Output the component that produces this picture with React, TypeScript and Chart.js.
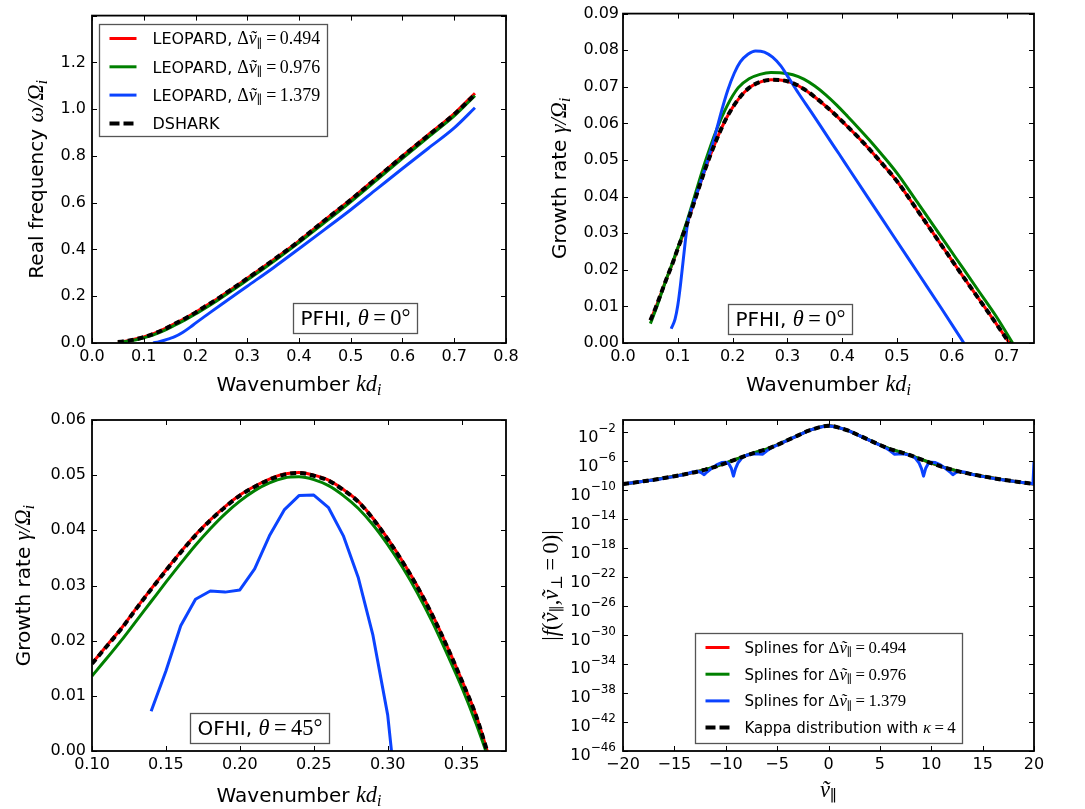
import React, { useEffect, useRef } from 'react';
import { Chart, registerables } from 'chart.js';

Chart.register(...registerables);

const RED = '#ff0000';
const GREEN = '#008000';
const BLUE = '#0b43ff';
const BLACK = '#000000';

// ---------------- Panel 1: real frequency, PFHI theta=0 ----------------
const p1K = [0.05, 0.07, 0.09, 0.10, 0.12, 0.14, 0.16, 0.18, 0.20, 0.22, 0.24, 0.26, 0.28, 0.30, 0.32, 0.34, 0.36, 0.38, 0.40, 0.45, 0.50, 0.55, 0.60, 0.65, 0.70, 0.74];
const p1Dshark = [0.004, 0.010, 0.019, 0.025, 0.040, 0.059, 0.082, 0.105, 0.130, 0.158, 0.185, 0.215, 0.245, 0.276, 0.307, 0.338, 0.370, 0.402, 0.436, 0.525, 0.612, 0.705, 0.798, 0.888, 0.978, 1.063];
const p1Red = [0.004, 0.010, 0.020, 0.026, 0.041, 0.060, 0.083, 0.106, 0.131, 0.159, 0.186, 0.216, 0.246, 0.277, 0.308, 0.339, 0.371, 0.403, 0.437, 0.526, 0.614, 0.707, 0.800, 0.891, 0.981, 1.068];
const p1Green = [0.003, 0.008, 0.016, 0.022, 0.036, 0.054, 0.076, 0.099, 0.124, 0.151, 0.179, 0.208, 0.238, 0.269, 0.300, 0.331, 0.363, 0.396, 0.430, 0.516, 0.604, 0.697, 0.790, 0.881, 0.971, 1.058];
const p1BlueK = [0.118, 0.13, 0.14, 0.15, 0.16, 0.175, 0.19, 0.20, 0.22, 0.25, 0.30, 0.35, 0.40, 0.45, 0.50, 0.55, 0.60, 0.65, 0.70, 0.74];
const p1Blue = [0.0, 0.006, 0.012, 0.019, 0.027, 0.045, 0.068, 0.085, 0.117, 0.165, 0.243, 0.321, 0.403, 0.486, 0.570, 0.658, 0.746, 0.833, 0.920, 1.006];
const p1XTicks = [0, 0.1, 0.2, 0.3, 0.4, 0.5, 0.6, 0.7, 0.8];
const p1YTicks = [0, 0.2, 0.4, 0.6, 0.8, 1.0, 1.2, 1.4];

// ---------------- Panel 2: growth rate, PFHI theta=0 ----------------
const p2K = [0.05, 0.06, 0.07, 0.08, 0.09, 0.10, 0.115, 0.13, 0.15, 0.17, 0.19, 0.21, 0.23, 0.25, 0.27, 0.29, 0.31, 0.33, 0.35, 0.37, 0.39, 0.41, 0.43, 0.45, 0.47, 0.50, 0.53, 0.56, 0.59, 0.62, 0.65, 0.68, 0.705];
const p2Dshark = [0.0062, 0.0098, 0.0138, 0.0178, 0.0216, 0.0258, 0.0318, 0.0385, 0.0475, 0.0553, 0.0618, 0.0665, 0.0697, 0.0713, 0.0719, 0.0718, 0.0710, 0.0694, 0.0672, 0.0647, 0.0620, 0.0591, 0.0561, 0.0529, 0.0495, 0.0442, 0.0378, 0.0313, 0.0248, 0.0183, 0.0119, 0.0055, 0.0];
const p2Red = [0.0062, 0.0098, 0.0138, 0.0178, 0.0216, 0.0258, 0.0318, 0.0385, 0.0475, 0.0553, 0.0618, 0.0665, 0.0697, 0.0713, 0.0719, 0.0718, 0.0710, 0.0694, 0.0672, 0.0647, 0.0620, 0.0591, 0.0561, 0.0529, 0.0495, 0.0442, 0.0378, 0.0313, 0.0248, 0.0183, 0.0119, 0.0055, 0.0];
const p2GreenK = [0.05, 0.06, 0.07, 0.08, 0.09, 0.10, 0.115, 0.13, 0.15, 0.17, 0.19, 0.21, 0.23, 0.25, 0.27, 0.29, 0.31, 0.33, 0.35, 0.37, 0.39, 0.41, 0.43, 0.45, 0.47, 0.50, 0.53, 0.56, 0.59, 0.62, 0.65, 0.68, 0.711];
const p2Green = [0.0053, 0.0092, 0.0135, 0.0178, 0.0218, 0.0260, 0.0325, 0.0398, 0.0495, 0.0580, 0.0648, 0.0697, 0.0722, 0.0734, 0.0739, 0.0738, 0.0733, 0.0721, 0.0702, 0.0678, 0.0650, 0.0619, 0.0587, 0.0554, 0.0519, 0.0464, 0.0400, 0.0335, 0.0270, 0.0205, 0.0140, 0.0075, 0.0];
const p2BlueK = [0.088, 0.095, 0.10, 0.105, 0.11, 0.118, 0.13, 0.141, 0.153, 0.167, 0.18, 0.191, 0.203, 0.214, 0.228, 0.242, 0.258, 0.273, 0.288, 0.302, 0.32, 0.343, 0.36, 0.378, 0.395, 0.413, 0.447, 0.495, 0.541, 0.58, 0.622];
const p2Blue = [0.0039, 0.0065, 0.0103, 0.0160, 0.0228, 0.0328, 0.0387, 0.0437, 0.0492, 0.0562, 0.0635, 0.0690, 0.0737, 0.0768, 0.0789, 0.0798, 0.0795, 0.0781, 0.0757, 0.0725, 0.0683, 0.0632, 0.0594, 0.0553, 0.0515, 0.0474, 0.0397, 0.0289, 0.0185, 0.0097, 0.0];
const p2XTicks = [0, 0.1, 0.2, 0.3, 0.4, 0.5, 0.6, 0.7];
const p2YTicks = [0, 0.01, 0.02, 0.03, 0.04, 0.05, 0.06, 0.07, 0.08, 0.09];

// ---------------- Panel 3: growth rate, OFHI theta=45 ----------------
const p3K = [0.10, 0.11, 0.12, 0.13, 0.14, 0.15, 0.16, 0.17, 0.18, 0.19, 0.20, 0.21, 0.22, 0.23, 0.24, 0.25, 0.26, 0.27, 0.28, 0.29, 0.30, 0.31, 0.32, 0.33, 0.34, 0.35, 0.36, 0.37];
const p3Dshark = [0.0158, 0.0190, 0.0222, 0.0258, 0.0293, 0.0327, 0.0360, 0.0391, 0.0418, 0.0442, 0.0463, 0.0479, 0.0492, 0.0501, 0.0504, 0.0499, 0.0490, 0.0473, 0.0452, 0.0421, 0.0384, 0.0343, 0.0298, 0.0247, 0.0190, 0.0128, 0.0062, -0.0025];
const p3Red = [0.0159, 0.0191, 0.0223, 0.0259, 0.0294, 0.0328, 0.0361, 0.0392, 0.0419, 0.0443, 0.0464, 0.0480, 0.0493, 0.0502, 0.0505, 0.0500, 0.0491, 0.0474, 0.0453, 0.0422, 0.0385, 0.0344, 0.0299, 0.0248, 0.0191, 0.0129, 0.0063, -0.0024];
const p3Green = [0.0136, 0.0168, 0.0201, 0.0236, 0.0271, 0.0306, 0.0340, 0.0373, 0.0403, 0.0430, 0.0453, 0.0472, 0.0486, 0.0495, 0.0497, 0.0492, 0.0481, 0.0463, 0.0440, 0.0410, 0.0374, 0.0333, 0.0287, 0.0235, 0.0177, 0.0116, 0.0048, -0.0028];
const p3BlueK = [0.14, 0.15, 0.16, 0.17, 0.18, 0.19, 0.20, 0.21, 0.22, 0.23, 0.24, 0.25, 0.26, 0.27, 0.28, 0.29, 0.30, 0.31];
const p3Blue = [0.0072, 0.0145, 0.0227, 0.0275, 0.0290, 0.0288, 0.0292, 0.0330, 0.0390, 0.0437, 0.0463, 0.0464, 0.0441, 0.0390, 0.0315, 0.0210, 0.0065, -0.019];
const p3XTicks = [0.10, 0.15, 0.20, 0.25, 0.30, 0.35];
const p3YTicks = [0, 0.01, 0.02, 0.03, 0.04, 0.05, 0.06];

// ---------------- Panel 4: distribution function ----------------
const p4V = [-20, -19, -18, -17, -16, -15, -14, -13, -12, -11, -10, -9, -8, -7, -6, -5, -4, -3, -2, -1, -0.5, 0, 0.5, 1, 2, 3, 4, 5, 6, 7, 8, 9, 10, 11, 12, 13, 14, 15, 16, 17, 18, 19, 20];
const p4Kappa = [7.24e-10, 1.10e-9, 1.78e-9, 2.75e-9, 4.79e-9, 8.71e-9, 1.58e-8, 3.09e-8, 7.08e-8, 1.78e-7, 5.62e-7, 1.82e-6, 6.31e-6, 1.82e-5, 4.68e-5, 1.78e-4, 7.94e-4, 3.55e-3, 1.62e-2, 4.47e-2, 6.76e-2, 8.13e-2, 6.76e-2, 4.47e-2, 1.62e-2, 3.55e-3, 7.94e-4, 1.78e-4, 4.68e-5, 1.82e-5, 6.31e-6, 1.82e-6, 5.62e-7, 1.78e-7, 7.08e-8, 3.09e-8, 1.58e-8, 8.71e-9, 4.79e-9, 2.75e-9, 1.78e-9, 1.10e-9, 7.24e-10];
const p4Red = [7.24e-10, 1.10e-9, 1.78e-9, 2.75e-9, 4.79e-9, 8.71e-9, 1.58e-8, 3.09e-8, 7.08e-8, 1.78e-7, 5.62e-7, 1.82e-6, 6.31e-6, 1.82e-5, 4.68e-5, 1.78e-4, 7.94e-4, 3.55e-3, 1.62e-2, 4.47e-2, 6.76e-2, 8.13e-2, 6.76e-2, 4.47e-2, 1.62e-2, 3.55e-3, 7.94e-4, 1.78e-4, 4.68e-5, 1.82e-5, 6.31e-6, 1.82e-6, 5.62e-7, 1.78e-7, 7.08e-8, 3.09e-8, 1.58e-8, 8.71e-9, 4.79e-9, 2.75e-9, 1.78e-9, 1.10e-9, 7.24e-10];
const p4Green = [7.30e-10, 1.11e-9, 1.80e-9, 2.80e-9, 4.85e-9, 8.80e-9, 1.60e-8, 3.15e-8, 7.20e-8, 1.82e-7, 6.00e-7, 1.90e-6, 6.50e-6, 1.90e-5, 5.00e-5, 1.85e-4, 8.10e-4, 3.60e-3, 1.63e-2, 4.45e-2, 6.70e-2, 8.00e-2, 6.70e-2, 4.45e-2, 1.63e-2, 3.60e-3, 8.10e-4, 1.85e-4, 5.00e-5, 1.90e-5, 6.50e-6, 1.90e-6, 6.00e-7, 1.82e-7, 7.20e-8, 3.15e-8, 1.60e-8, 8.80e-9, 4.85e-9, 2.80e-9, 1.80e-9, 1.11e-9, 7.30e-10];
const p4BlueV = [-20, -18, -16.5, -15.5, -14.8, -14, -13.3, -12.7, -12.4, -12.1, -11.8, -11.4, -10.9, -10.4, -10.0, -9.7, -9.45, -9.25, -9.05, -8.8, -8.4, -7.9, -7.3, -6.8, -6.4, -6.0, -5.5, -5, -4, -3, -2, -1, 0, 1, 2, 3, 4, 5, 5.5, 6.0, 6.4, 6.8, 7.3, 7.9, 8.4, 8.8, 9.05, 9.25, 9.45, 9.7, 10.0, 10.4, 10.9, 11.4, 11.8, 12.1, 12.4, 12.7, 13.3, 14, 14.8, 15.5, 16.5, 18, 19.9, 20];
const p4Blue = [7.24e-10, 1.74e-9, 3.39e-9, 6.03e-9, 8.91e-9, 1.51e-8, 3.02e-8, 4.17e-8, 2.82e-8, 1.41e-8, 3.55e-8, 1.0e-7, 3.16e-7, 6.61e-7, 7.59e-7, 4.47e-7, 1.0e-7, 8.91e-9, 1.0e-7, 6.31e-7, 3.16e-6, 7.59e-6, 1.05e-5, 1.05e-5, 9.55e-6, 2.82e-5, 7.94e-5, 1.74e-4, 7.94e-4, 3.55e-3, 1.62e-2, 4.47e-2, 8.13e-2, 4.47e-2, 1.62e-2, 3.55e-3, 7.94e-4, 1.74e-4, 7.94e-5, 2.82e-5, 9.55e-6, 1.05e-5, 1.05e-5, 7.59e-6, 3.16e-6, 6.31e-7, 1.0e-7, 8.91e-9, 1.0e-7, 4.47e-7, 7.59e-7, 6.61e-7, 3.16e-7, 1.0e-7, 3.55e-8, 1.41e-8, 2.82e-8, 4.17e-8, 3.02e-8, 1.51e-8, 8.91e-9, 6.03e-9, 3.39e-9, 1.74e-9, 7.6e-10, 1.0e-6];
const p4XTicks = [-20, -15, -10, -5, 0, 5, 10, 15, 20];
const p4YExponents = [-2, -6, -10, -14, -18, -22, -26, -30, -34, -38, -42, -46];

// legend label values
const dvLabels = ['0.494', '0.976', '1.379'];
const kappaLabel = '4';

// ---------------- rich text helpers ----------------
type Seg = { t: string; f?: 's' | 'i' | 'r'; sub?: boolean; sup?: boolean };
const SANS = '"DejaVu Sans", sans-serif';
const SERIF = '"Liberation Serif", "DejaVu Serif", serif';
const MATH_SCALE = 1.12;

function segFont(s: Seg, size: number) {
  const sz = s.sub || s.sup ? size * 0.7 : size;
  if (s.f === 'i') return `italic ${(sz * MATH_SCALE).toFixed(2)}px ${SERIF}`;
  if (s.f === 'r') return `${(sz * MATH_SCALE).toFixed(2)}px ${SERIF}`;
  return `${sz.toFixed(2)}px ${SANS}`;
}
function richWidth(ctx: CanvasRenderingContext2D, segs: Seg[], size: number) {
  let w = 0;
  for (const s of segs) {
    ctx.font = segFont(s, size);
    w += ctx.measureText(s.t).width;
  }
  return w;
}
function drawRich(ctx: CanvasRenderingContext2D, segs: Seg[], x: number, y: number, size: number, align: 'left' | 'center' | 'right', rotate = false) {
  ctx.save();
  ctx.translate(x, y);
  if (rotate) ctx.rotate(-Math.PI / 2);
  const w = richWidth(ctx, segs, size);
  let cx = align === 'center' ? -w / 2 : align === 'right' ? -w : 0;
  ctx.fillStyle = '#000';
  ctx.textAlign = 'left';
  ctx.textBaseline = 'alphabetic';
  for (const s of segs) {
    ctx.font = segFont(s, size);
    const dy = s.sub ? size * 0.22 : s.sup ? -size * 0.42 : 0;
    ctx.fillText(s.t, cx, dy);
    cx += ctx.measureText(s.t).width;
  }
  ctx.restore();
}

const dv = (val: string): Seg[] => [
  { t: 'Δ', f: 'r' },
  { t: 'ṽ', f: 'i' },
  { t: '∥', f: 'r', sub: true },
  { t: '\u2009=\u2009' + val, f: 'r' },
];
const wavenumber: Seg[] = [{ t: 'Wavenumber ', f: 's' }, { t: 'kd', f: 'i' }, { t: 'i', f: 'i', sub: true }];
const growth: Seg[] = [{ t: 'Growth rate ', f: 's' }, { t: 'γ/Ω', f: 'i' }, { t: 'i', f: 'i', sub: true }];
const note = (name: string, deg: string): Seg[] => [
  { t: name + ', ', f: 's' },
  { t: 'θ', f: 'i' },
  { t: '\u2009=\u2009' + deg, f: 'r' },
  { t: '°', f: 'r' },
];

// ---------------- panel config ----------------
type Series = { xs: number[]; ys: number[]; color: string; dashed?: boolean; smooth?: boolean };
type LegendCfg = {
  items: { segs: Seg[]; color: string; dashed?: boolean }[];
  anchor: 'ul' | 'lc'; size: number; mx: number; my: number; top: number; row: number; bottom: number;
  padL: number; lineLen: number; gap: number; padR: number;
};
type NoteCfg = { segs: Seg[]; fx: number; fy: number; size: number };
type AxisCfg = { min: number; max: number; ticks?: number[]; dec?: number; hideAbove?: number; log?: boolean; exps?: number[]; pad: number };
type PanelCfg = {
  box: { x: number; y: number; w: number; h: number };
  plot: { l: number; t: number; r: number; b: number };
  series: Series[];
  x: AxisCfg; y: AxisCfg;
  xTitle: Seg[]; xTitleBase: number; yTitle: Seg[]; yTitleBase: number;
  legend?: LegendCfg; note?: NoteCfg;
};

const leopardItems = [
  { segs: [{ t: 'LEOPARD, ', f: 's' } as Seg, ...dv(dvLabels[0])], color: RED },
  { segs: [{ t: 'LEOPARD, ', f: 's' } as Seg, ...dv(dvLabels[1])], color: GREEN },
  { segs: [{ t: 'LEOPARD, ', f: 's' } as Seg, ...dv(dvLabels[2])], color: BLUE },
  { segs: [{ t: 'DSHARK', f: 's' } as Seg], color: BLACK, dashed: true },
];
const splineItems = [
  { segs: [{ t: 'Splines for ', f: 's' } as Seg, ...dv(dvLabels[0])], color: RED },
  { segs: [{ t: 'Splines for ', f: 's' } as Seg, ...dv(dvLabels[1])], color: GREEN },
  { segs: [{ t: 'Splines for ', f: 's' } as Seg, ...dv(dvLabels[2])], color: BLUE },
  { segs: [{ t: 'Kappa distribution with ', f: 's' } as Seg, { t: 'κ', f: 'i' } as Seg, { t: '\u2009=\u2009' + kappaLabel, f: 'r' } as Seg], color: BLACK, dashed: true },
];

const panels: PanelCfg[] = [
  {
    box: { x: 0, y: 0, w: 542, h: 400 },
    plot: { l: 92, t: 13, r: 506, b: 343 },
    series: [
      { xs: p1K, ys: p1Dshark, color: BLACK, dashed: true, smooth: true },
      { xs: p1BlueK, ys: p1Blue, color: BLUE, smooth: true },
      { xs: p1K, ys: p1Green, color: GREEN, smooth: true },
      { xs: p1K, ys: p1Red, color: RED, smooth: true },
    ],
    x: { min: 0, max: 0.8, ticks: p1XTicks, dec: 1, pad: 4 },
    y: { min: 0, max: 1.4, ticks: p1YTicks, dec: 1, hideAbove: 1.3, pad: 6 },
    xTitle: wavenumber, xTitleBase: 391,
    yTitle: [{ t: 'Real frequency ', f: 's' }, { t: 'ω/Ω', f: 'i' }, { t: 'i', f: 'i', sub: true }], yTitleBase: 43,
    legend: { items: leopardItems, anchor: 'ul', size: 16, mx: 7, my: 8, top: 14, row: 28.3, bottom: 13, padL: 10, lineLen: 27, gap: 16, padR: 7 },
    note: { segs: note('PFHI', '0'), fx: 0.485, fy: 0.878, size: 20 },
  },
  {
    box: { x: 542, y: 0, w: 543, h: 400 },
    plot: { l: 623, t: 13, r: 1034, b: 343 },
    series: [
      { xs: p2K, ys: p2Dshark, color: BLACK, dashed: true, smooth: true },
      { xs: p2BlueK, ys: p2Blue, color: BLUE, smooth: true },
      { xs: p2GreenK, ys: p2Green, color: GREEN, smooth: true },
      { xs: p2K, ys: p2Red, color: RED, smooth: true },
    ],
    x: { min: 0, max: 0.75, ticks: p2XTicks, dec: 1, pad: 4 },
    y: { min: 0, max: 0.09, ticks: p2YTicks, dec: 2, pad: 4 },
    xTitle: wavenumber, xTitleBase: 391,
    yTitle: growth, yTitleBase: 566,
    note: { segs: note('PFHI', '0'), fx: 0.2557, fy: 0.8806, size: 20 },
  },
  {
    box: { x: 0, y: 400, w: 542, h: 409 },
    plot: { l: 92, t: 420, r: 506, b: 751 },
    series: [
      { xs: p3K, ys: p3Dshark, color: BLACK, dashed: true, smooth: true },
      { xs: p3BlueK, ys: p3Blue, color: BLUE },
      { xs: p3K, ys: p3Green, color: GREEN, smooth: true },
      { xs: p3K, ys: p3Red, color: RED, smooth: true },
    ],
    x: { min: 0.1, max: 0.38, ticks: p3XTicks, dec: 2, pad: 4 },
    y: { min: 0, max: 0.06, ticks: p3YTicks, dec: 2, pad: 6 },
    xTitle: wavenumber, xTitleBase: 802,
    yTitle: growth, yTitleBase: 30,
    note: { segs: note('OFHI', '45'), fx: 0.2357, fy: 0.8853, size: 20 },
  },
  {
    box: { x: 542, y: 400, w: 543, h: 409 },
    plot: { l: 623, t: 420, r: 1034, b: 751 },
    series: [
      { xs: p4V, ys: p4Kappa, color: BLACK, dashed: true },
      { xs: p4BlueV, ys: p4Blue, color: BLUE },
      { xs: p4V, ys: p4Green, color: GREEN },
      { xs: p4V, ys: p4Red, color: RED },
    ],
    x: { min: -20, max: 20, ticks: p4XTicks, dec: 0, pad: 4 },
    y: { min: 1e-46, max: 0.5, log: true, exps: p4YExponents, pad: 7 },
    xTitle: [{ t: 'ṽ', f: 'i' }, { t: '∥', f: 'r', sub: true }], xTitleBase: 797,
    yTitle: [
      { t: '|', f: 'r' }, { t: 'f\u0303', f: 'i' }, { t: '(', f: 'r' }, { t: 'ṽ', f: 'i' }, { t: '∥', f: 'r', sub: true },
      { t: ',', f: 'r' }, { t: 'ṽ', f: 'i' }, { t: '⊥', f: 'r', sub: true }, { t: '\u2009=\u20090)|', f: 'r' },
    ],
    yTitleBase: 558,
    legend: { items: splineItems, anchor: 'lc', size: 15, mx: 0, my: 8, top: 14, row: 26.7, bottom: 16, padL: 10, lineLen: 24, gap: 15, padR: 7 },
  },
];

// ---------------- drawing ----------------
function line(ctx: CanvasRenderingContext2D, x1: number, y1: number, x2: number, y2: number) {
  ctx.beginPath();
  ctx.moveTo(x1, y1);
  ctx.lineTo(x2, y2);
  ctx.stroke();
}

function drawDeco(chart: any, cfg: PanelCfg) {
  const ctx: CanvasRenderingContext2D = chart.ctx;
  const a = chart.chartArea;
  const ox = cfg.box.x;
  const oy = cfg.box.y;
  const xs = chart.scales.x;
  const ys = chart.scales.y;
  const TL = 5;
  ctx.save();
  ctx.strokeStyle = '#000';
  ctx.lineWidth = 1;
  ctx.setLineDash([]);
  for (const t of xs.ticks) {
    const p = Math.round(xs.getPixelForValue(t.value)) + 0.5;
    line(ctx, p, a.bottom, p, a.bottom - TL);
    line(ctx, p, a.top, p, a.top + TL);
  }
  for (const t of ys.ticks) {
    const p = Math.round(ys.getPixelForValue(t.value)) + 0.5;
    line(ctx, a.left, p, a.left + TL, p);
    line(ctx, a.right, p, a.right - TL, p);
  }
  ctx.lineWidth = 1.8;
  ctx.strokeRect(a.left, a.top, a.right - a.left, a.bottom - a.top);

  // log axis labels
  if (cfg.y.log && cfg.y.exps) {
    ctx.fillStyle = '#000';
    ctx.textBaseline = 'alphabetic';
    ctx.textAlign = 'left';
    for (const e of cfg.y.exps) {
      const p = ys.getPixelForValue(Number('1e' + e));
      const supTxt = (e < 0 ? '\u2212' : '') + Math.abs(e);
      ctx.font = `16px ${SANS}`;
      const w10 = ctx.measureText('10').width;
      ctx.font = `12px ${SANS}`;
      const ws = ctx.measureText(supTxt).width;
      const x0 = a.left - cfg.y.pad - ws - w10;
      ctx.font = `16px ${SANS}`;
      ctx.fillText('10', x0, p + 9.4);
      ctx.font = `12px ${SANS}`;
      ctx.fillText(supTxt, x0 + w10, p - 0.5);
    }
  }

  // titles
  drawRich(ctx, cfg.xTitle, (a.left + a.right) / 2, cfg.xTitleBase - oy, 20, 'center');
  drawRich(ctx, cfg.yTitle, cfg.yTitleBase - ox, (a.top + a.bottom) / 2, 20, 'center', true);

  // legend
  if (cfg.legend) {
    const L = cfg.legend;
    const tw = Math.max(...L.items.map((it) => richWidth(ctx, it.segs, L.size)));
    const w = L.padL + L.lineLen + L.gap + tw + L.padR;
    const h = L.top + (L.items.length - 1) * L.row + L.bottom;
    let x0: number, y0: number;
    if (L.anchor === 'ul') {
      x0 = a.left + L.mx;
      y0 = a.top + L.my;
    } else {
      x0 = (a.left + a.right) / 2 - w / 2;
      y0 = a.bottom - L.my - h;
    }
    x0 = Math.round(x0) + 0.5;
    y0 = Math.round(y0) + 0.5;
    ctx.fillStyle = '#fff';
    ctx.fillRect(x0, y0, w, h);
    ctx.strokeStyle = '#555';
    ctx.lineWidth = 1.3;
    ctx.setLineDash([]);
    ctx.strokeRect(x0, y0, Math.round(w), Math.round(h));
    L.items.forEach((it, i) => {
      const cy = y0 + L.top + i * L.row;
      ctx.save();
      ctx.strokeStyle = it.color;
      ctx.lineWidth = it.dashed ? 4 : 3;
      ctx.lineCap = 'butt';
      ctx.setLineDash(it.dashed ? [10, 4] : []);
      line(ctx, x0 + L.padL, cy, x0 + L.padL + L.lineLen, cy);
      ctx.restore();
      drawRich(ctx, it.segs, x0 + L.padL + L.lineLen + L.gap, cy + L.size * 0.36, L.size, 'left');
    });
  }

  // annotation box
  if (cfg.note) {
    const N = cfg.note;
    const tw = richWidth(ctx, N.segs, N.size);
    const bx = Math.round(a.left + N.fx * (a.right - a.left)) + 0.5;
    const by = Math.round(a.top + N.fy * (a.bottom - a.top)) + 0.5;
    const w = Math.round(tw + 14);
    const h = 30;
    ctx.fillStyle = '#fff';
    ctx.fillRect(bx, by, w, h);
    ctx.strokeStyle = '#555';
    ctx.lineWidth = 1.3;
    ctx.setLineDash([]);
    ctx.strokeRect(bx, by, w, h);
    drawRich(ctx, N.segs, bx + 7, by + 21.5, N.size, 'left');
  }
  ctx.restore();
}

function axisOptions(ax: AxisCfg, isX: boolean, fixed: number): any {
  const common: any = {
    min: ax.min,
    max: ax.max,
    bounds: 'data',
    position: isX ? 'bottom' : 'left',
    grid: { display: false, drawTicks: false },
    border: { display: false },
    afterFit: (s: any) => {
      if (isX) s.height = fixed;
      else s.width = fixed;
    },
  };
  if (ax.log) {
    return {
      ...common,
      type: 'logarithmic',
      afterBuildTicks: (s: any) => {
        s.ticks = (ax.exps || []).map((e) => ({ value: Number('1e' + e) }));
      },
      ticks: { display: false },
    };
  }
  return {
    ...common,
    type: 'linear',
    afterBuildTicks: (s: any) => {
      s.ticks = (ax.ticks || []).map((v) => ({ value: v }));
    },
    ticks: {
      padding: ax.pad,
      autoSkip: false,
      maxRotation: 0,
      minRotation: 0,
      color: '#000',
      font: { family: 'DejaVu Sans', size: 16 },
      callback: (v: any) => {
        const n = Number(v);
        if (ax.hideAbove !== undefined && n > ax.hideAbove) return '';
        const s = Math.abs(n).toFixed(ax.dec ?? 0);
        return (n < -1e-9 ? '\u2212' : '') + s;
      },
    },
  };
}

function makeChart(canvas: HTMLCanvasElement, cfg: PanelCfg) {
  const { box, plot } = cfg;
  const yW = plot.l - box.x;
  const xH = box.y + box.h - plot.b;
  const padR = box.x + box.w - plot.r;
  const padT = plot.t - box.y;
  const datasets = cfg.series.map((s) => ({
    data: s.xs.map((x, i) => ({ x, y: s.ys[i] })),
    borderColor: s.color,
    backgroundColor: s.color,
    borderWidth: s.dashed ? 4 : 3,
    borderDash: s.dashed ? [6, 4] : [],
    borderCapStyle: 'butt',
    borderJoinStyle: 'round',
    pointRadius: 0,
    pointHoverRadius: 0,
    fill: false,
    tension: 0,
    cubicInterpolationMode: s.smooth ? 'monotone' : 'default',
  }));
  return new Chart(canvas, {
    type: 'line',
    data: { datasets } as any,
    options: {
      animation: false,
      responsive: false,
      devicePixelRatio: 1,
      events: [],
      layout: { padding: { left: 0, right: padR, top: padT, bottom: 0 } },
      plugins: { legend: { display: false }, tooltip: { enabled: false }, title: { display: false } },
      scales: {
        x: axisOptions(cfg.x, true, xH),
        y: axisOptions(cfg.y, false, yW),
      },
    } as any,
    plugins: [{ id: 'deco', afterDraw: (chart: any) => drawDeco(chart, cfg) }],
  });
}

function Panel({ cfg }: { cfg: PanelCfg }) {
  const ref = useRef<HTMLCanvasElement>(null);
  useEffect(() => {
    if (!ref.current) return;
    const c = makeChart(ref.current, cfg);
    return () => c.destroy();
  }, [cfg]);
  return (
    <div style={{ position: 'absolute', left: cfg.box.x, top: cfg.box.y, width: cfg.box.w, height: cfg.box.h }}>
      <canvas ref={ref} width={cfg.box.w} height={cfg.box.h} style={{ width: cfg.box.w, height: cfg.box.h, display: 'block' }} />
    </div>
  );
}

export default function App() {
  return (
    <div style={{ position: 'absolute', left: 0, top: 0, width: 1085, height: 809, background: '#fff' }}>
      {panels.map((p, i) => (
        <Panel key={i} cfg={p} />
      ))}
    </div>
  );
}
